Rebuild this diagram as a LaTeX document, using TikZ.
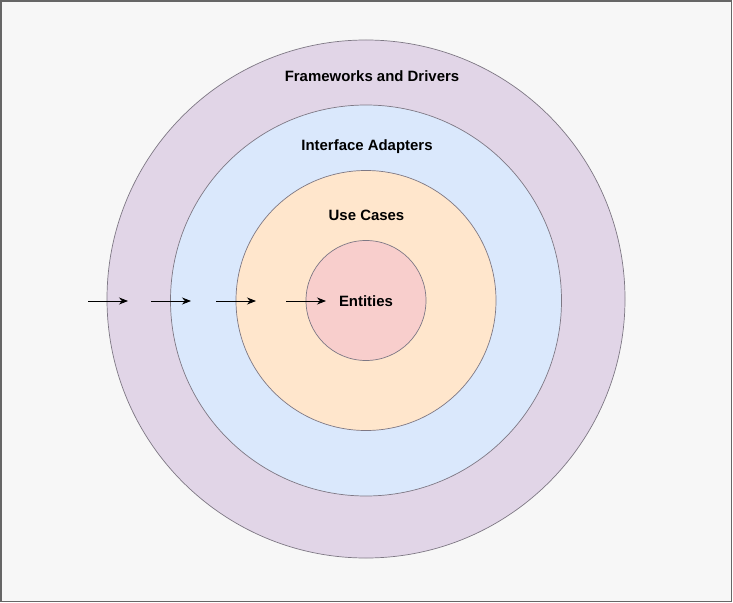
\documentclass[tikz,border=0pt]{standalone}
\usepackage{fontspec}
\setmainfont{Liberation Sans}
\usetikzlibrary{arrows.meta}
\definecolor{pagebg}{HTML}{F7F7F7}
\definecolor{framefill}{HTML}{E1D5E7}
\definecolor{adapterfill}{HTML}{DAE8FC}
\definecolor{casefill}{HTML}{FFE6CC}
\definecolor{entityfill}{HTML}{F8CECC}
\definecolor{ringline}{HTML}{7E7884}
\begin{document}
\begin{tikzpicture}[x=1bp, y=-1bp, >={Stealth[length=9bp,width=7bp]},
  ring/.style={draw=ringline, line width=0.7bp, circle, inner sep=0pt},
  layer/.style={font=\fontsize{15}{18}\selectfont\bfseries, text=black}]
% page
\draw[fill=pagebg, draw=black!60, line width=1.5bp] (1,1) rectangle (731.5,601.5);
\useasboundingbox (0,0) rectangle (733,603);
% rings
\node[ring, fill=framefill, minimum size=518bp] (frameworks) at (366,299) {};
\node[ring, fill=adapterfill, minimum size=391bp] (adapters) at (366,300.5) {};
\node[ring, fill=casefill, minimum size=260bp] (usecases) at (366,300.5) {};
\node[ring, fill=entityfill, minimum size=120bp] (entities) at (366,300.5) {};
% labels
\node[layer] (frameworkslabel) at (372,76) {Frameworks and Drivers};
\node[layer] (adapterslabel) at (367,147) {Interface Adapters};
\node[layer] (usecaseslabel) at (366.5,215) {Use Cases};
\node[layer] (entitieslabel) at (366,301) {Entities};
% dependency arrows
\foreach \i/\xa in {1/88, 2/151, 3/216, 4/286} {
  \coordinate (dep\i s) at (\xa,301);
  \coordinate (dep\i e) at (\xa+40,301);
  \draw[->, line width=0.8bp] (dep\i s) -- (dep\i e);
}
\end{tikzpicture}
\end{document}
